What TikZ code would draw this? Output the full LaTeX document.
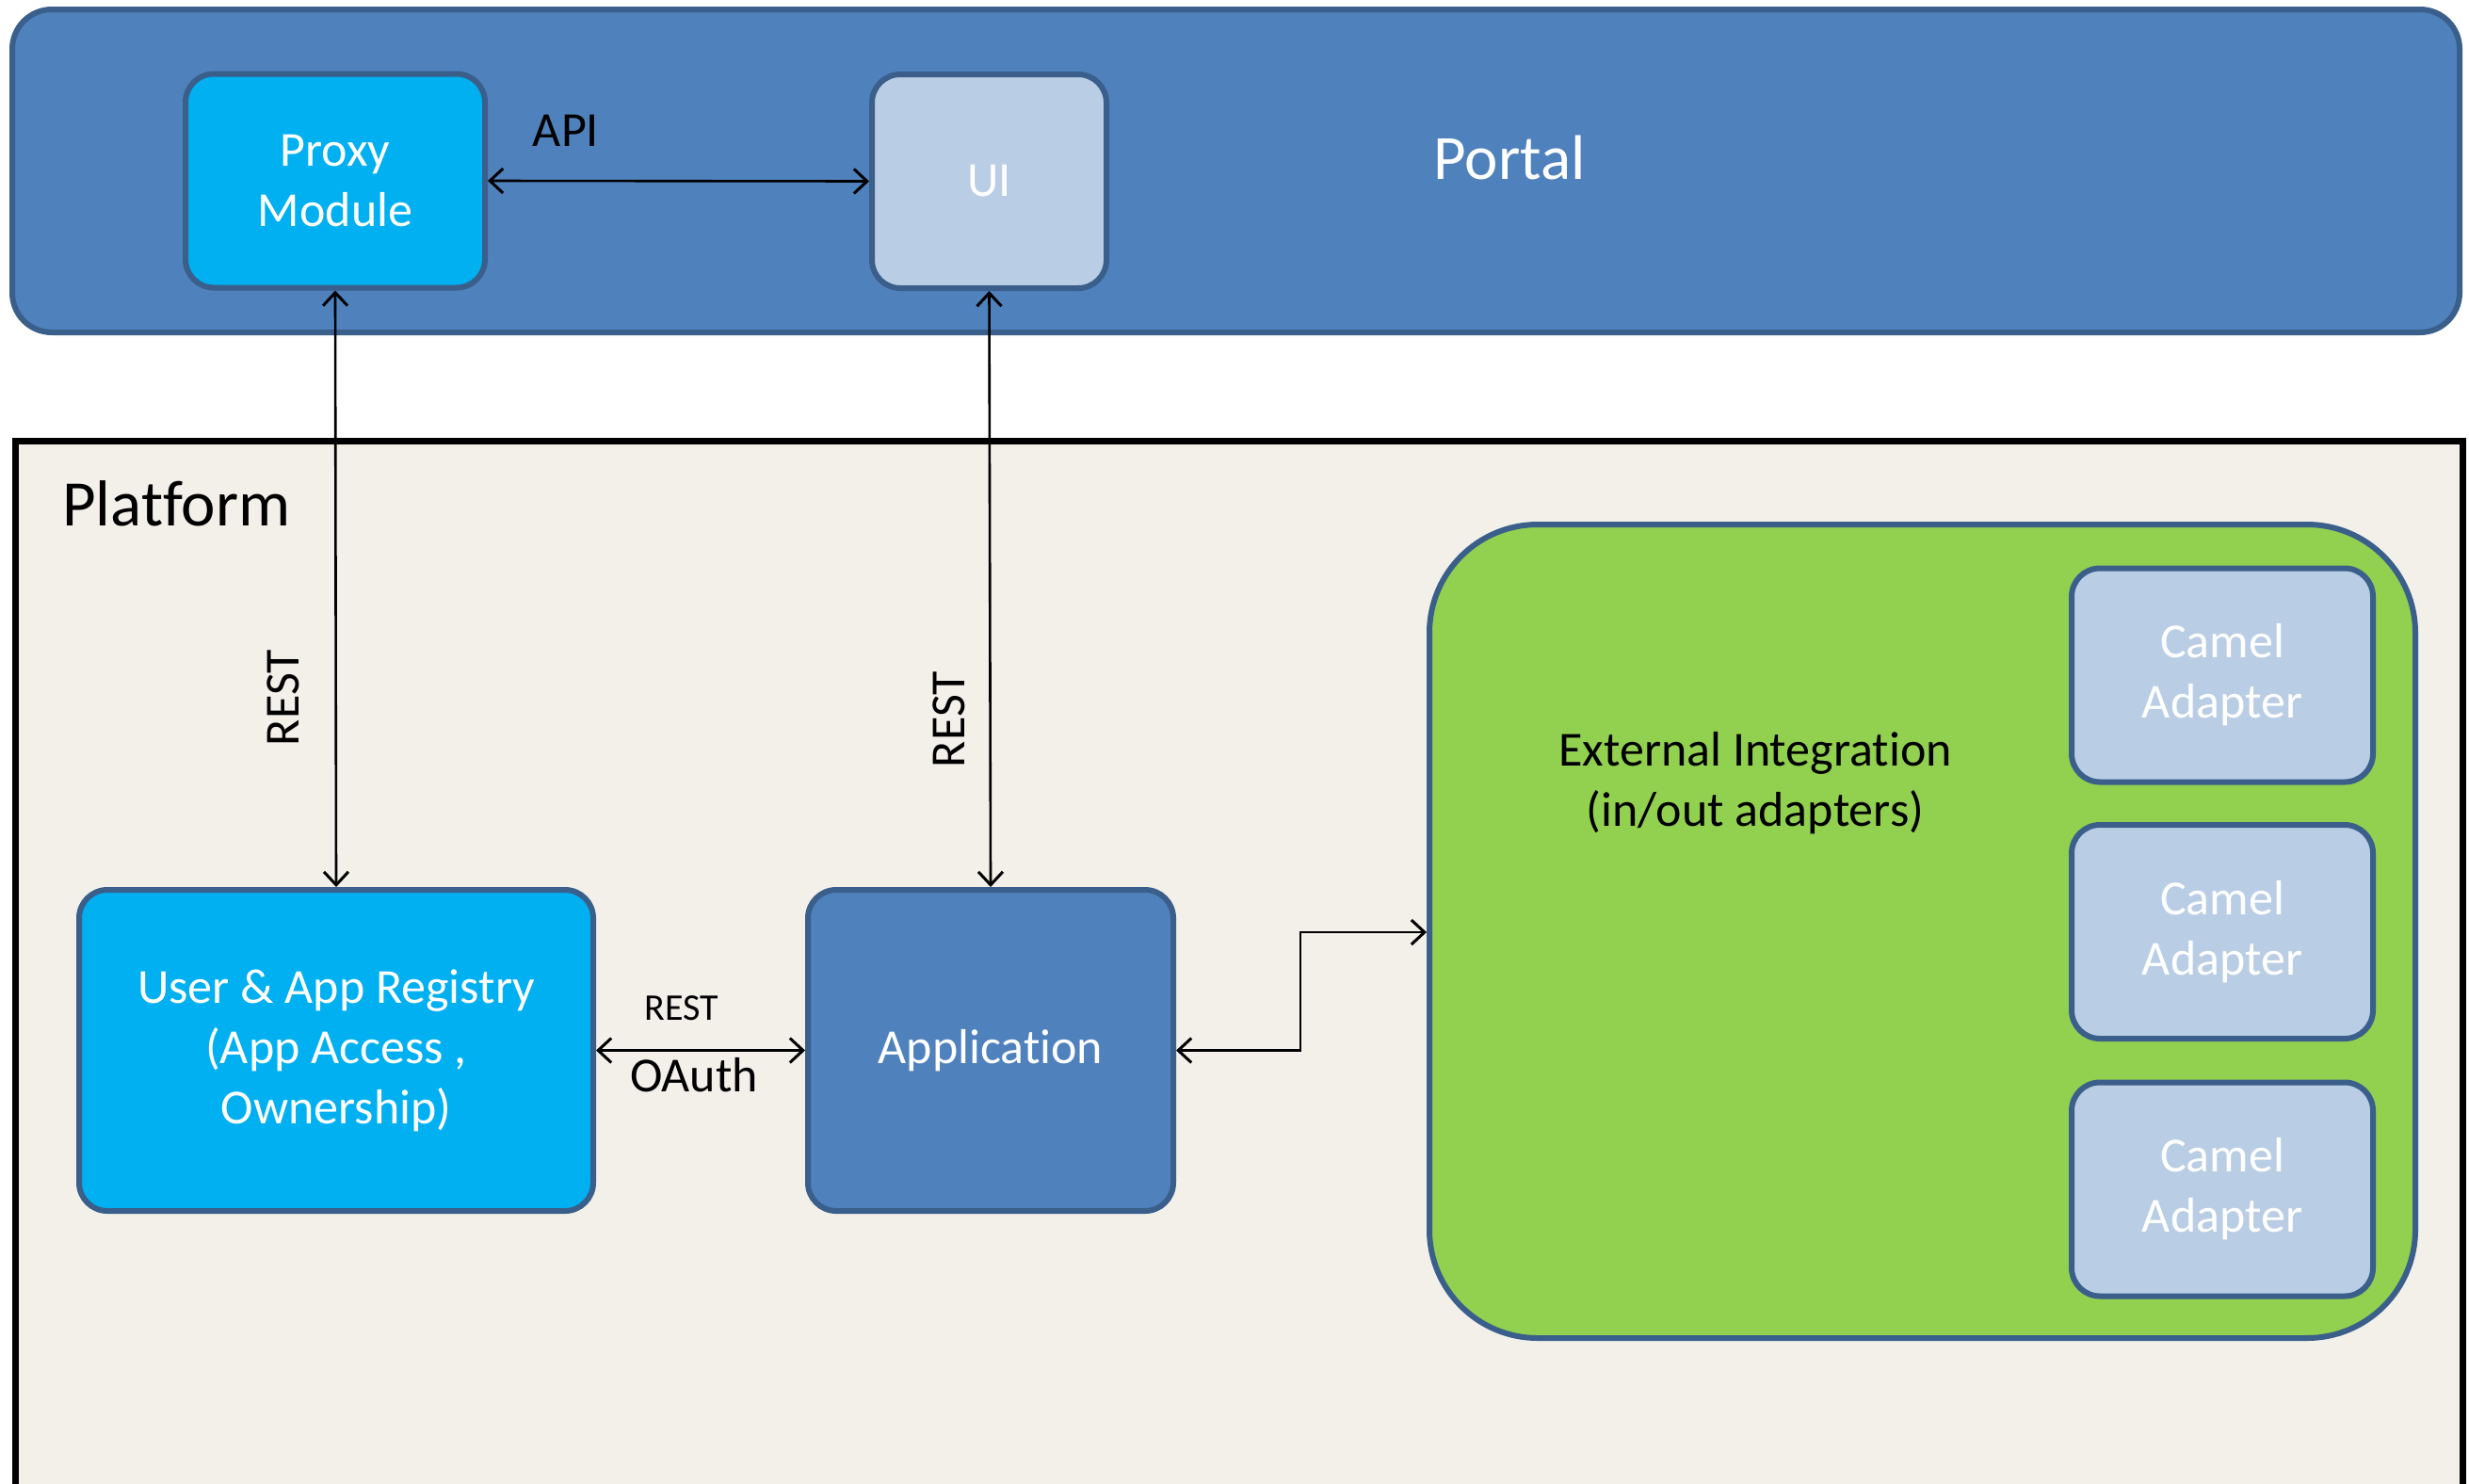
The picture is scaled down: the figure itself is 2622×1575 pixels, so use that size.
\documentclass[tikz,border=0pt]{standalone}
\usepackage{fontspec}
\setmainfont[Ligatures={NoCommon,NoRare,NoContextual}]{Carlito}
\usetikzlibrary{arrows.meta}
\definecolor{portalblue}{HTML}{4F81BD}
\definecolor{edgeblue}{HTML}{3A5F8B}
\definecolor{cyanbox}{HTML}{00B0F0}
\definecolor{paleblue}{HTML}{B9CDE5}
\definecolor{greenbox}{HTML}{92D050}
\definecolor{beige}{HTML}{F3F0EA}
\begin{document}
\begin{tikzpicture}[x=1pt,y=-1pt,
  box/.style={draw=edgeblue, line width=6pt, rounded corners=30pt, align=center,
    text=white, font=\fontsize{52}{64}\selectfont, inner sep=0pt},
  lbl/.style={font=\fontsize{52}{64}\selectfont, text=black, inner sep=0pt},
  barb/.tip={Straight Barb[length=14pt,width=26pt,line width=3pt]},
  conn/.style={line width=2.6pt, barb-barb}
]
\useasboundingbox (0,0) rectangle (2622,1575);
% Portal
\node[box, fill=portalblue, rounded corners=42pt, minimum width=2599pt, minimum height=343pt] (portal) at (1312.5,181.5) {};
\node[lbl, text=white, font=\fontsize{67}{80}\selectfont] (portallbl) at (1603,167) {Portal};
% Platform
\node[draw=black, fill=beige, line width=7pt, minimum width=2599pt, minimum height=1200pt, anchor=north west, inner sep=0pt] (platform) at (13,465) {};
\node[lbl, anchor=west, font=\fontsize{69}{82}\selectfont] (platformlbl) at (66,535) {Platform};
% Portal contents
\node[box, fill=cyanbox, minimum width=318pt, minimum height=227pt] (proxy) at (356,192) {Proxy\\Module};
\node[box, fill=paleblue, minimum width=249pt, minimum height=227pt] (ui) at (1050.5,192.5) {UI};
% Platform contents
\node[box, fill=cyanbox, minimum width=546pt, minimum height=341pt] (registry) at (357,1115.5) {User \& App Registry\\(App Access ,\\Ownership)};
\node[box, fill=portalblue, minimum width=388pt, minimum height=341pt] (app) at (1052,1115.5) {Application};
\node[box, fill=greenbox, rounded corners=115pt, minimum width=1047pt, minimum height=864pt] (ext) at (2041.5,989) {};
\node[lbl] (extlbl) at (1864,832) [align=center] {External Integration\\(in/out adapters)};
\node[box, fill=paleblue, minimum width=320pt, minimum height=227pt] (camel1) at (2360,717) {Camel\\Adapter};
\node[box, fill=paleblue, minimum width=320pt, minimum height=227pt] (camel2) at (2360,989.5) {Camel\\Adapter};
\node[box, fill=paleblue, minimum width=320pt, minimum height=227pt] (camel3) at (2360,1263) {Camel\\Adapter};
% Connectors
\draw[conn] (proxy.east) -- (ui.west);
\node[lbl] (apilbl) at (601,139) {API};
\draw[conn] (proxy.south) -- (registry.north);
\node[lbl, rotate=90] (rest1) at (301,741) {REST};
\draw[conn] (ui.south) -- (app.north);
\node[lbl, rotate=90] (rest2) at (1008,764) {REST};
\draw[conn] (registry.east) -- (app.west);
\node[lbl, font=\fontsize{40}{48}\selectfont] (rest3) at (724,1071) {REST};
\node[lbl] (oauth) at (737,1142) {OAuth};
\coordinate (elbow) at (1381,990);
\draw[conn] (app.east) -| (elbow) -- (elbow -| ext.west);
\end{tikzpicture}
\end{document}
